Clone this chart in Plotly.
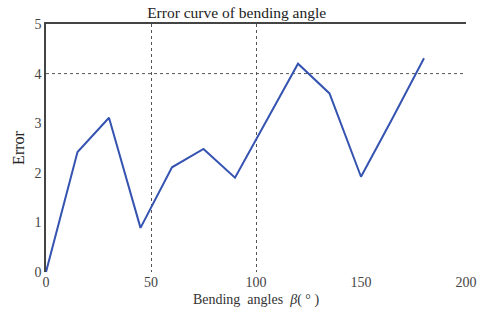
import plotly.graph_objects as go

# Bending angle (degrees) and measured error
angles = [0, 15, 30, 45, 60, 75, 90, 105, 120, 135, 150, 165, 180]
errors = [0.0, 2.42, 3.11, 0.89, 2.11, 2.48, 1.90, 3.05, 4.20, 3.60, 1.92, 3.10, 4.31]

x_ticks = [0, 50, 100, 150, 200]
y_ticks = [0, 1, 2, 3, 4, 5]
grid_x = [50, 100]
grid_y = [4]

serif = "Liberation Serif, Times New Roman, serif"
nb = "\u00a0"

fig = go.Figure()
fig.add_trace(go.Scatter(
    x=angles, y=errors, mode="lines",
    line=dict(color="#3553b0", width=2),
    showlegend=False, xaxis="x", yaxis="y",
))
# invisible trace to activate the top overlay axis carrying the vertical grid
fig.add_trace(go.Scatter(
    x=[0, 200], y=[0, 0], mode="lines", line=dict(width=0),
    hoverinfo="skip", showlegend=False, xaxis="x2", yaxis="y2",
))

fig.update_layout(
    width=483, height=322,
    margin=dict(l=46, r=17, t=24, b=50),
    paper_bgcolor="white", plot_bgcolor="white",
    font=dict(family=serif, size=12, color="#222"),
    title=dict(text="Error curve of bending angle", x=0.49, xanchor="center",
               y=0.962, yanchor="middle", font=dict(family=serif, size=15.5, color="#222")),
    xaxis=dict(range=[0, 200], tickvals=x_ticks, showgrid=False, zeroline=False,
               showline=False, ticks="", automargin=False,
               tickfont=dict(family=serif, size=14, color="#444"),
               title=dict(text=f"Bending{nb}{nb}angles{nb}{nb}<i>β</i>({nb}°{nb})", standoff=5,
                          font=dict(family=serif, size=14, color="#333"))),
    yaxis=dict(range=[0, 5], tickvals=y_ticks, showgrid=False, zeroline=False,
               showline=True, linecolor="#444", linewidth=1.5, ticks="", automargin=False,
               tickfont=dict(family=serif, size=14, color="#444"),
               title=dict(text="Error", standoff=6, font=dict(family=serif, size=16, color="#222"))),
    xaxis2=dict(range=[0, 200], overlaying="x", side="top", tickvals=grid_x,
                showticklabels=False, showgrid=True, gridcolor="#555", automargin=False,
                griddash="dot", gridwidth=1, showline=True, linecolor="#444",
                linewidth=1.5, ticks="", zeroline=False),
    yaxis2=dict(range=[0, 5], overlaying="y", visible=False),
)
# only the y=4 horizontal grid line is drawn
for gy in grid_y:
    fig.add_hline(y=gy, line=dict(color="#555", width=1, dash="dot"), layer="below")

fig.write_html("out.html")
